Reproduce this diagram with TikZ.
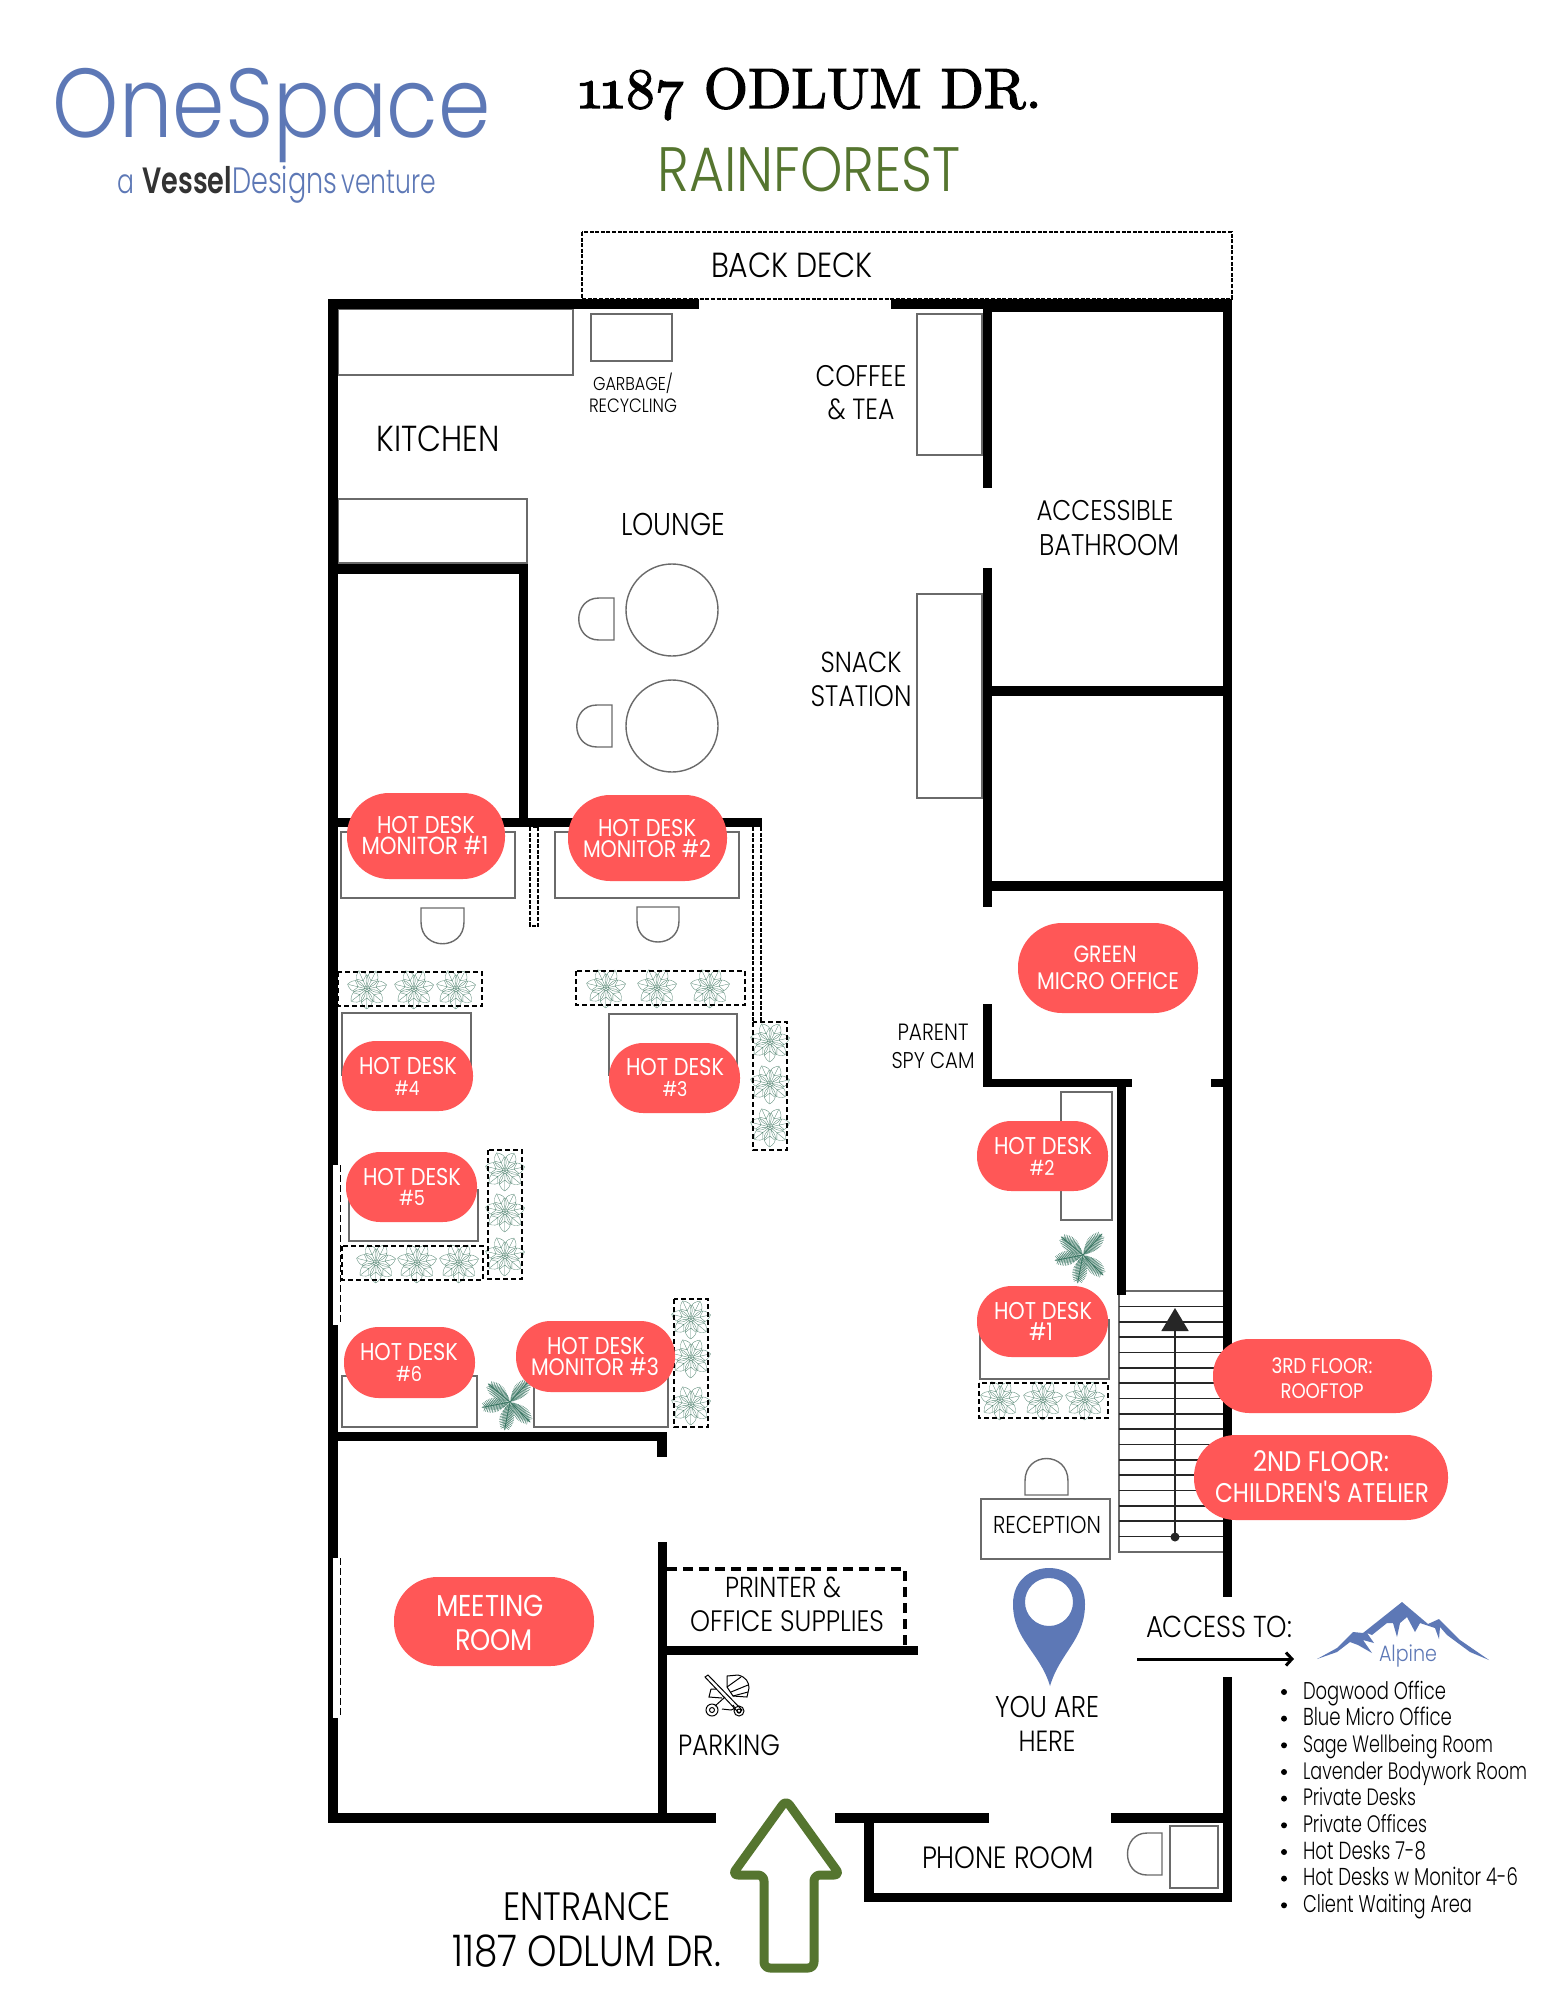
\documentclass[tikz,border=0pt]{standalone}
\usepackage{fontspec}
\usepackage{graphicx}
\usetikzlibrary{arrows.meta}
\newfontfamily\fut[FakeStretch=0.86]{Poppins Light}
\newfontfamily\futw[FakeStretch=0.86]{Poppins}
\newfontfamily\futc[FakeStretch=0.74]{Poppins Light}
\newfontfamily\futb[FakeStretch=0.74]{Poppins SemiBold}
\newfontfamily\ttlf[Numbers=OldStyle,FakeBold=2.4]{lmroman10-regular.otf}
\definecolor{coral}{HTML}{FF5757}
\definecolor{leafgreen}{HTML}{55752F}
\definecolor{steel}{HTML}{5D78B6}
\definecolor{plantc}{HTML}{5C8B79}
\definecolor{palmc}{HTML}{3A7663}
\definecolor{greyc}{HTML}{6A6A6A}
\newcounter{labn}
\newcommand\lab[5][black]{\stepcounter{labn}\node[lab,text=#1] (t\arabic{labn}) at (#2,#3) {\resizebox{#4pt}{!}{\fut\fontsize{20}{24}\selectfont #5}};}
\newcommand\wlab[4]{\stepcounter{labn}\node[lab,text=white] (t\arabic{labn}) at (#1,#2) {\resizebox{#3pt}{!}{\futw\fontsize{20}{24}\selectfont #4}};}
\newcommand\pill[5]{\pgfmathsetmacro\pw{#4-#2}\pgfmathsetmacro\ph{#5-#3}\pgfmathsetmacro\pr{0.49*\ph}\node[pillbox,minimum width=\pw pt,minimum height=\ph pt,rounded corners=\pr pt] (#1) at ({(#2+#4)/2},{(#3+#5)/2}) {};}
\newcommand\wall[4]{\fill[black] (#1,#2) rectangle (#3,#4);}
\newcommand\plantb[2]{\begin{scope}[shift={(#1,#2)}]\foreach \a in {12,63.4,...,370}{\begin{scope}[rotate=\a]\draw[plantl] (2,0) .. controls (7,-7) and (15,-8) .. (20,0) .. controls (15,8) and (7,7) .. (2,0) (0,0) -- (19,0) (9,0) -- (13,-5) (9,0) -- (13,5);\end{scope}}\end{scope}}
\newcommand\palm[2]{\begin{scope}[shift={(#1,#2)},scale=1.08]\foreach \a in {48,-45,-101,191,140}{\begin{scope}[rotate=\a]\fill[palmc!35] (0,0) .. controls (6,-6) and (18,-6) .. (27,0) .. controls (18,6) and (6,6) .. (0,0);\draw[palml,line width=.9pt] (0,0) -- (26,0);\foreach \t in {2,3.5,...,24}{\pgfmathsetmacro\wb{5.5*sin(180*\t/27)+1.2}\draw[palml] (\t,0) -- (\t+2.5,-\wb) (\t,0) -- (\t+2.5,\wb);}\end{scope}}\end{scope}}
\tikzset{
 lab/.style={anchor=base,inner sep=0pt,outer sep=0pt,yshift=-1pt},
 pillbox/.style={fill=coral,draw=none,inner sep=0pt,outer sep=0pt},
 grey/.style={draw=greyc,line width=1.4pt,fill=white},
 planter/.style={draw=black,line width=1.5pt,dash pattern=on 5pt off 3pt},
 thindash/.style={draw=black,line width=1.2pt,dash pattern=on 4pt off 1.6pt},
 plantl/.style={draw=plantc,line width=.35pt},
 palml/.style={draw=palmc,line width=.45pt},
}
\begin{document}
\begin{tikzpicture}[x=1pt,y=-1pt]
\useasboundingbox (0,0) rectangle (1545,1999);
\fill[white] (0,0) rectangle (1545,1999);
% deck
\draw[thindash] (582,232) rectangle (1232,299);
% grey furniture
\draw[grey] (338,309) rectangle (573,375);
\draw[grey] (591,314) rectangle (672,361);
\draw[grey] (338,499) rectangle (527,563);
\draw[grey] (917,314) rectangle (982,455);
\draw[grey] (917,594) rectangle (982,798);
\draw[grey] (672,610) circle[radius=46pt];
\draw[grey] (672,726) circle[radius=46pt];
\draw[grey] (614,598) -- (614,640) -- (599,640) .. controls (572,640) and (572,598) .. (599,598) -- cycle;
\draw[grey] (612,705) -- (612,747) -- (597,747) .. controls (570,747) and (570,705) .. (597,705) -- cycle;
\draw[grey] (421,908) -- (464,908) -- (464,922) .. controls (464,951) and (421,951) .. (421,922) -- cycle;
\draw[grey] (637,907) -- (679,907) -- (679,921) .. controls (679,949) and (637,949) .. (637,921) -- cycle;
\draw[grey] (1025,1495) -- (1068,1495) -- (1068,1481) .. controls (1068,1451) and (1025,1451) .. (1025,1481) -- cycle;
\draw[grey] (1162,1833) -- (1162,1875) -- (1147,1875) .. controls (1121,1875) and (1121,1833) .. (1147,1833) -- cycle;
\draw[grey] (341,832) rectangle (515,898);
\draw[grey] (555,832) rectangle (739,898);
\draw[grey] (342,1013) rectangle (471,1075);
\draw[grey] (609,1014) rectangle (737,1075);
\draw[grey] (349,1190) rectangle (478,1241);
\draw[grey] (342,1376) rectangle (477,1427);
\draw[grey] (534,1376) rectangle (668,1427);
\draw[grey] (1061,1092) rectangle (1112,1220);
\draw[grey] (980,1320) rectangle (1109,1379);
\draw[grey] (981,1499) rectangle (1110,1559);
\draw[grey] (1170,1826) rectangle (1218,1888);
% stairs
\draw[greyc,line width=1.4pt] (1119,1291) rectangle (1225,1552);
\foreach \i in {1,...,16}{\draw[black!85,line width=1.6pt] (1119,{1291+15.35*\i}) -- (1225,{1291+15.35*\i});}
\node[circle,fill=black!85,inner sep=0pt,minimum size=9pt] (stairdot) at (1175,1537) {};
\coordinate (stairtip) at (1175,1308);
\draw[black!85,line width=1.6pt,-{Triangle[length=23pt,width=27pt]}] (stairdot.center) -- (stairtip);
% walls
\wall{328}{299}{699}{309}
\wall{891}{299}{1232}{309}
\wall{992}{299}{1232}{312}
\wall{328}{299}{338}{1823}
\wall{328}{564}{528}{574}
\wall{519}{564}{528}{827}
\wall{328}{818}{762}{827}
\wall{983}{300}{992}{488}
\wall{983}{568}{992}{907}
\wall{992}{686}{1232}{696}
\wall{983}{881}{1232}{891}
\wall{983}{1004}{992}{1087}
\wall{983}{1079}{1132}{1087}
\wall{1211}{1079}{1232}{1087}
\wall{1117}{1087}{1126}{1295}
\wall{1223}{299}{1232}{1597}
\wall{1223}{1677}{1232}{1900}
\wall{328}{1432}{667}{1441}
\wall{657}{1432}{667}{1457}
\wall{658}{1542}{667}{1823}
\wall{328}{1813}{716}{1823}
\wall{835}{1813}{989}{1823}
\wall{1111}{1813}{1232}{1823}
\wall{864}{1823}{874}{1902}
\wall{864}{1893}{1232}{1902}
\wall{660}{1646}{918}{1655}
% windows
\fill[white] (333,1165) rectangle (338,1325);
\draw[black,line width=1pt,dash pattern=on 7pt off 3pt] (340,1165) -- (340,1325);
\fill[white] (333,1558) rectangle (338,1718);
\draw[black,line width=1pt,dash pattern=on 7pt off 3pt] (340,1558) -- (340,1718);
% printer dashes
\draw[black,line width=3.2pt,dash pattern=on 10pt off 6pt] (667,1569) -- (905,1569) -- (905,1646);
% strips
\draw[thindash] (530,827) rectangle (538,926);
\draw[thindash] (753,827) -- (753,1022) (761,827) -- (761,1022);
% planters
\plantb{367}{989}\plantb{414}{989}\plantb{456}{989}
\draw[planter] (338,972) rectangle (482,1006);
\plantb{606}{988}\plantb{657}{988}\plantb{710}{988}
\draw[planter] (576,971) rectangle (745,1005);
\plantb{770}{1042}\plantb{770}{1084}\plantb{770}{1127}
\draw[planter] (753,1022) rectangle (787,1150);
\plantb{376}{1263}\plantb{417}{1263}\plantb{459}{1263}
\draw[planter] (342,1246) rectangle (483,1280);
\plantb{505}{1171}\plantb{505}{1212}\plantb{505}{1256}
\draw[planter] (488,1150) rectangle (522,1279);
\plantb{691}{1319}\plantb{691}{1358}\plantb{691}{1405}
\draw[planter] (674,1299) rectangle (708,1427);
\plantb{1000}{1400}\plantb{1043}{1400}\plantb{1085}{1400}
\draw[planter] (979,1383) rectangle (1108,1418);
\palm{510}{1402}
\palm{1083}{1255}
% pills
\pill{pm1}{347}{793}{505}{879}
\pill{pm2}{568}{795}{727}{881}
\pill{p4}{342}{1041}{473}{1111}
\pill{p3}{609}{1043}{740}{1113}
\pill{p5}{346}{1152}{477}{1222}
\pill{p6}{344}{1327}{475}{1398}
\pill{pm3}{516}{1321}{675}{1392}
\pill{pgreen}{1018}{923}{1198}{1013}
\pill{p2}{977}{1121}{1108}{1191}
\pill{p1}{977}{1286}{1108}{1357}
\pill{pr}{1213}{1339}{1432}{1413}
\pill{pa}{1194}{1435}{1448}{1520}
\pill{pmeet}{394}{1577}{594}{1666}
% pill text
\wlab{426}{832}{98}{HOT DESK}\wlab{425}{853}{127}{MONITOR \#1}
\wlab{647}{835}{98}{HOT DESK}\wlab{647}{856}{128}{MONITOR \#2}
\wlab{408}{1073}{98}{HOT DESK}\wlab{407}{1094}{25}{\#4}
\wlab{675}{1074}{98}{HOT DESK}\wlab{675}{1095}{25}{\#3}
\wlab{412}{1184}{98}{HOT DESK}\wlab{412}{1204}{26}{\#5}
\wlab{409}{1359}{98}{HOT DESK}\wlab{409}{1380}{26}{\#6}
\wlab{596}{1353}{98}{HOT DESK}\wlab{595}{1374}{128}{MONITOR \#3}
\wlab{1105}{961}{63}{GREEN}\wlab{1108}{988}{142}{MICRO OFFICE}
\wlab{1043}{1153}{98}{HOT DESK}\wlab{1042}{1174}{25}{\#2}
\wlab{1043}{1318}{98}{HOT DESK}\wlab{1041}{1339}{24}{\#1}
\wlab{1322}{1372}{101}{3RD FLOOR:}\wlab{1322}{1397}{83}{ROOFTOP}
\wlab{1321}{1470}{136}{2ND FLOOR:}\wlab{1322}{1501}{214}{CHILDREN'S ATELIER}
\wlab{490}{1615}{108}{MEETING}\wlab{494}{1649}{78}{ROOM}
% labels
\lab{792}{276}{162}{BACK DECK}
\lab{438}{450}{123}{KITCHEN}
\lab{633}{389}{80}{GARBAGE/}\lab{633}{411}{88}{RECYCLING}
\lab{861}{385}{91}{COFFEE}\lab{861}{418}{67}{\& TEA}
\lab{673}{534}{104}{LOUNGE}
\lab{1105}{519}{137}{ACCESSIBLE}\lab{1109}{554}{140}{BATHROOM}
\lab{861}{671}{81}{SNACK}\lab{861}{705}{101}{STATION}
\lab{933}{1039}{71}{PARENT}\lab{933}{1067}{83}{SPY CAM}
\lab{1047}{1532}{108}{RECEPTION}
\lab{783}{1596}{116}{PRINTER \&}\lab{787}{1630}{194}{OFFICE SUPPLIES}
\lab{729}{1754}{102}{PARKING}
\lab{1047}{1716}{104}{YOU ARE}\lab{1047}{1750}{57}{HERE}
\lab{1219}{1636}{146}{ACCESS TO:}
\lab{1008}{1867}{172}{PHONE ROOM}
\lab{587}{1919}{167}{ENTRANCE}\lab{587}{1965}{269}{1187 ODLUM DR.}
% access arrow
\coordinate (acca) at (1137,1659);
\coordinate (accb) at (1294,1659);
\draw[black,line width=3pt,-{Straight Barb[length=6pt,width=13pt]}] (acca) -- (accb);
% pin
\fill[steel,even odd rule] (1050,1686) .. controls (1040,1652) and (1013,1640) .. (1013,1604) .. controls (1013,1556) and (1085,1556) .. (1085,1604) .. controls (1085,1640) and (1060,1652) .. (1050,1686) -- cycle (1049,1602) circle[radius=24pt];
% alpine
\fill[steel] (1317,1659) -- (1337,1648) -- (1353,1632) -- (1363,1633) -- (1402,1602) -- (1428,1624) -- (1439,1619) -- (1460,1640) -- (1489,1660) -- (1470,1652) -- (1447,1635) -- (1440,1627) -- (1439,1639) -- (1435,1628) -- (1420,1623) -- (1415,1632) -- (1407,1617) -- (1400,1623) -- (1397,1637) -- (1393,1623) -- (1387,1623) -- (1372,1635) -- (1367,1633) -- (1374,1643) -- (1363,1640) -- (1372,1653) -- (1358,1645) -- (1350,1642) -- (1337,1652) -- cycle;
\lab[steel]{1408}{1660}{58}{Alpine}
% list
\foreach \yy in {1692,1718.6,1745.3,1772,1798.6,1825.3,1852,1878.6,1905.3}{\fill[black] (1284,\yy) circle[radius=3pt];}
\newcommand\lst[3]{\stepcounter{labn}\node[lab,anchor=base west] (t\arabic{labn}) at (1303,#1) {\resizebox{#2pt}{!}{\futc\fontsize{20}{24}\selectfont #3}};}
\lst{1698}{143}{Dogwood Office}
\lst{1724}{149}{Blue Micro Office}
\lst{1751}{190}{Sage Wellbeing Room}
\lst{1778}{224}{Lavender Bodywork Room}
\lst{1804}{113}{Private Desks}
\lst{1831}{124}{Private Offices}
\lst{1858}{123}{Hot Desks 7-8}
\lst{1884}{215}{Hot Desks w Monitor 4-6}
\lst{1911}{169}{Client Waiting Area}
% stroller
\begin{scope}[black,line width=1pt]
\draw (705,1677) -- (708,1675) -- (742,1710) -- (739,1713) -- cycle;
\draw (725,1697) -- (715,1706);
\draw (712,1710) circle[radius=6pt] (712,1710) circle[radius=2.5pt];
\draw (739,1711) circle[radius=5pt] (739,1711) circle[radius=2pt];
\draw (727,1676) -- (738,1675) .. controls (746,1677) and (749,1682) .. (749,1688) -- (747,1697) -- (733,1696) -- (727,1687) -- cycle;
\draw (727,1687) -- (741,1677) (731,1692) -- (748,1685) (733,1696) -- (748,1692);
\draw (711,1689) -- (709,1697) -- (722,1698) (711,1689) -- (716,1689);
\draw (722,1709) -- (731,1710) .. controls (735,1709) and (735,1707) .. (733,1705);
\end{scope}
% entrance arrow
\draw[leafgreen,line width=9pt,rounded corners=6pt,line join=round] (786,1800) -- (840,1875) -- (814,1875) -- (814,1968) -- (764,1968) -- (764,1875) -- (732,1875) -- cycle;
% header
\lab[steel]{272}{137}{438}{OneSpace}
\stepcounter{labn}\node[lab] (t\arabic{labn}) at (277,192) {\resizebox{318pt}{!}{\fontsize{20}{24}\selectfont{\color{steel}\futc a\hspace{.22em}}{\color{black!80}\scalebox{1.08}{\futb Vessel}}{\color{steel}\scalebox{1.08}{\futc Designs}\hspace{.12em}\futc venture}}};
\stepcounter{labn}\node[lab] (t\arabic{labn}) at (810,107) {\resizebox{463pt}{!}{\ttlf\fontsize{20}{24}\selectfont 1187 ODLUM DR.}};
\lab[leafgreen]{809}{190}{303}{RAINFOREST}
\end{tikzpicture}
\end{document}
